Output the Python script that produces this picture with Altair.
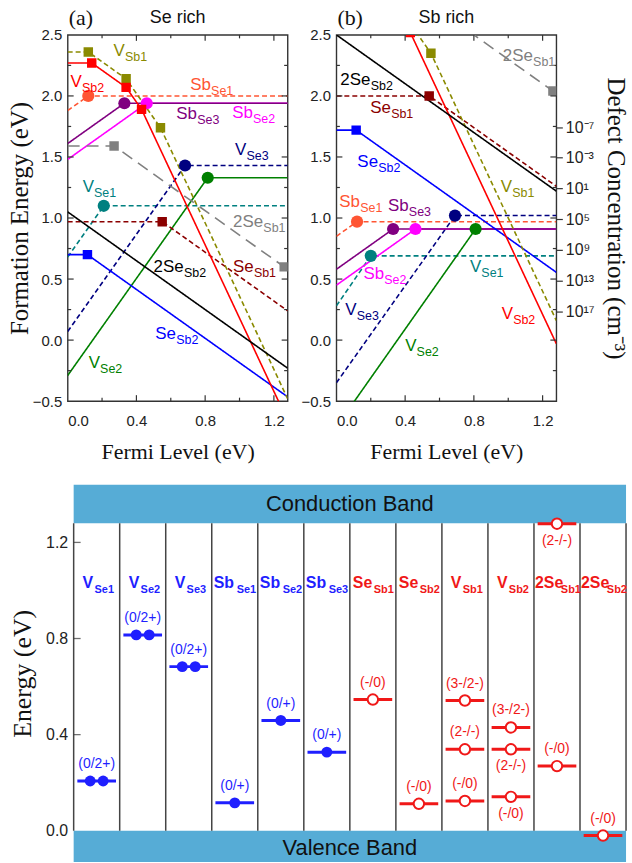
import altair as alt
import pandas as pd

SANS = "Liberation Sans"
SERIF = "Liberation Serif"
FRAME = "#333333"

# ---------------- formation-energy panels ----------------
FERMI_MAX = 1.28
E_MIN, E_MAX = -0.5, 2.5
PW, PH = 221, 368

DEFECTS = ["V_Se1", "V_Se2", "V_Se3", "Sb_Se1", "Sb_Se2", "Sb_Se3",
           "Se_Sb1", "Se_Sb2", "V_Sb1", "V_Sb2", "2Se_Sb1", "2Se_Sb2"]
LINE_COLORS = ["#008080", "#008000", "#000080", "#ff5533", "#ff00ff", "#800080",
               "#8b0000", "#0000ff", "#8a8a00", "#ff0000", "#808080", "#000000"]
LINE_DASHES = [[5, 3], [1, 0], [5, 3], [5, 3], [1, 0], [1, 0],
               [5, 3], [1, 0], [5, 3], [1, 0], [12, 7], [1, 0]]
LINE_WIDTHS = [1.6, 1.6, 1.6, 1.6, 1.6, 1.6, 1.6, 1.3, 1.6, 1.5, 2.4, 2.0]
DONORS = ["V_Se1", "V_Se2", "V_Se3", "Sb_Se1", "Sb_Se2", "Sb_Se3"]

# vertices (Fermi level, formation energy) of every defect line
SE_RICH = {
    "V_Se1": ([0.0, 0.21, 1.28], [0.68, 1.10, 1.10]),
    "V_Se2": ([0.0, 0.815, 1.28], [-0.29, 1.33, 1.33]),
    "V_Se3": ([0.0, 0.683, 1.28], [0.07, 1.43, 1.43]),
    "Sb_Se1": ([0.0, 0.12, 1.28], [1.88, 2.00, 2.00]),
    "Sb_Se2": ([0.0, 0.46, 1.28], [1.48, 1.94, 1.94]),
    "Sb_Se3": ([0.0, 0.33, 1.28], [1.61, 1.94, 1.94]),
    "Se_Sb1": ([0.0, 0.55, 1.28], [0.97, 0.97, 0.24]),
    "Se_Sb2": ([0.0, 0.115, 1.28], [0.70, 0.70, -0.465]),
    "V_Sb1": ([0.0, 0.12, 0.34, 0.54, 1.28], [2.36, 2.36, 2.14, 1.74, -0.48]),
    "V_Sb2": ([0.0, 0.14, 0.34, 0.43, 1.28], [2.27, 2.27, 2.07, 1.89, -0.66]),
    "2Se_Sb1": ([0.0, 0.27, 1.26, 1.28], [1.59, 1.59, 0.60, 0.56]),
    "2Se_Sb2": ([0.0, 1.28], [1.05, -0.23]),
}
SB_RICH = {
    "V_Se1": ([0.0, 0.20, 1.28], [0.28, 0.69, 0.69]),
    "V_Se2": ([0.0, 0.81, 1.28], [-0.71, 0.91, 0.91]),
    "V_Se3": ([0.0, 0.69, 1.28], [-0.35, 1.02, 1.02]),
    "Sb_Se1": ([0.0, 0.12, 1.28], [0.85, 0.97, 0.97]),
    "Sb_Se2": ([0.0, 0.46, 1.28], [0.45, 0.91, 0.91]),
    "Sb_Se3": ([0.0, 0.33, 1.28], [0.58, 0.91, 0.91]),
    "Se_Sb1": ([0.0, 0.54, 1.28], [2.00, 2.00, 1.26]),
    "Se_Sb2": ([0.0, 0.115, 1.28], [1.72, 1.72, 0.555]),
    "V_Sb1": ([0.0, 0.12, 0.34, 0.55, 1.28], [2.99, 2.99, 2.77, 2.35, 0.16]),
    "V_Sb2": ([0.0, 0.14, 0.34, 0.43, 1.28], [2.90, 2.90, 2.70, 2.52, -0.03]),
    "2Se_Sb1": ([0.0, 0.27, 1.26, 1.28], [3.03, 3.03, 2.04, 2.00]),
    "2Se_Sb2": ([0.0, 1.28], [2.50, 1.22]),
}

# defect name tags inside each panel (left edge, vertical centre)
SE_TAG_DEFECT = ["V_Sb1", "V_Sb2", "Sb_Se1", "Sb_Se3", "Sb_Se2", "V_Se3",
                 "V_Se1", "2Se_Sb1", "2Se_Sb2", "Se_Sb1", "Se_Sb2", "V_Se2"]
SE_TAG_X = [0.267, 0.017, 0.713, 0.632, 0.957, 0.974, 0.087, 0.962, 0.50, 0.962, 0.51, 0.122]
SE_TAG_Y = [2.37, 2.11, 2.09, 1.85, 1.86, 1.56, 1.25, 0.97, 0.60, 0.60, 0.05, -0.19]

SB_TAG_DEFECT = ["2Se_Sb1", "2Se_Sb2", "Se_Sb1", "Se_Sb2", "V_Sb1", "Sb_Se1",
                 "Sb_Se3", "Sb_Se2", "V_Se1", "V_Se3", "V_Sb2", "V_Se2"]
SB_TAG_X = [0.968, 0.023, 0.197, 0.122, 0.957, 0.017, 0.30, 0.157, 0.777, 0.052, 0.962, 0.40]
SB_TAG_Y = [2.33, 2.13, 1.90, 1.46, 1.25, 1.13, 1.10, 0.54, 0.60, 0.25, 0.21, -0.05]

# right-hand concentration axis (exponents of 10, cm^-3)
CONC_EXP = [-7, -3, 1, 5, 9, 13, 17]
CONC_DOMAIN = [-19.0, 28.7]

X_TICKS = [0.0, 0.4, 0.8, 1.2]
X_MINOR = [0.2, 0.6, 1.0]
Y_TICKS = [-0.5, 0.0, 0.5, 1.0, 1.5, 2.0, 2.5]
Y_MINOR = [-0.25, 0.25, 0.75, 1.25, 1.75, 2.25]

TAG_MAIN_SIZE, TAG_SUB_SIZE = 17, 12.5
TAG_SUB_DX = {"V": 11.5, "Sb": 21, "Se": 21, "2Se": 30.5}


def line_table(verts):
    rows = []
    for d, (xs, ys) in verts.items():
        for i, (x, y) in enumerate(zip(xs, ys)):
            rows.append({"defect": d, "i": i, "x": x, "y": y,
                         "marker": 0 < i < len(xs) - 1,
                         "shape": "circle" if d in DONORS else "square"})
    return pd.DataFrame(rows)


def tag_table(defects, xs, ys):
    return pd.DataFrame({"defect": defects, "x": xs, "y": ys,
                         "main": [d.split("_")[0] for d in defects],
                         "sub": [d.split("_")[1] for d in defects]})


def sup(n):
    table = str.maketrans("-0123456789", "⁻⁰¹²³⁴⁵⁶⁷⁸⁹")
    return "10" + str(n).translate(table)


color_enc = alt.Color("defect:N", scale=alt.Scale(domain=DEFECTS, range=LINE_COLORS), legend=None)


def formation_panel(verts, tag_df, letter, heading, first):
    xs = alt.Scale(domain=[0, FERMI_MAX], nice=False, zero=False)
    ys = alt.Scale(domain=[E_MIN, E_MAX], nice=False, zero=False)
    x_axis = alt.Axis(title="Fermi Level (eV)", values=X_TICKS, format=".1f", ticks=False,
                      domain=False, labelPadding=12, titlePadding=14, titleFontSize=22,
                      labelFontSize=15)
    y_axis = alt.Axis(title="Formation Energy (eV)" if first else None, values=Y_TICKS,
                      format=".1f", ticks=False, domain=False, labelPadding=6,
                      titlePadding=0, titleFontSize=25, labelFontSize=15)
    X = lambda f: alt.X(f, scale=xs, axis=x_axis)
    Y = lambda f: alt.Y(f, scale=ys, axis=y_axis)

    df = line_table(verts)
    lines = alt.Chart(df).mark_line(clip=True).encode(
        x=X("x:Q"), y=Y("y:Q"), color=color_enc,
        strokeDash=alt.StrokeDash("defect:N", scale=alt.Scale(domain=DEFECTS, range=LINE_DASHES), legend=None),
        strokeWidth=alt.StrokeWidth("defect:N", scale=alt.Scale(domain=DEFECTS, range=LINE_WIDTHS), legend=None),
        detail="defect:N", order="i:Q")
    circles = alt.Chart(df).transform_filter("datum.marker && datum.shape == 'circle'").mark_point(
        shape="circle", filled=True, opacity=1, size=150, clip=True).encode(x=X("x:Q"), y=Y("y:Q"), color=color_enc)
    squares = alt.Chart(df).transform_filter("datum.marker && datum.shape == 'square'").mark_point(
        shape="square", filled=True, opacity=1, size=90, clip=True).encode(x=X("x:Q"), y=Y("y:Q"), color=color_enc)

    layers = [lines, circles, squares]

    # inward tick marks on all four sides
    def ticks(vals, side, length):
        m = alt.Chart(pd.DataFrame({"v": vals})).mark_rule(color=FRAME, strokeWidth=1.2)
        if side == "bottom":
            return m.encode(x=X("v:Q"), y=alt.value(PH), y2=alt.value(PH - length))
        if side == "top":
            return m.encode(x=X("v:Q"), y=alt.value(0), y2=alt.value(length))
        if side == "left":
            return m.encode(y=Y("v:Q"), x=alt.value(0), x2=alt.value(length))
        return m.encode(y=Y("v:Q"), x=alt.value(PW), x2=alt.value(PW - length))

    for side in ["bottom", "top"]:
        layers += [ticks(X_TICKS[1:], side, 6), ticks(X_MINOR, side, 3.5)]
    for side in ["left", "right"]:
        layers += [ticks(Y_TICKS[1:-1], side, 6), ticks(Y_MINOR, side, 3.5)]

    # defect tags with subscripts
    layers.append(alt.Chart(tag_df).mark_text(align="left", baseline="middle", font=SANS,
                                              fontSize=TAG_MAIN_SIZE).encode(
        x=X("x:Q"), y=Y("y:Q"), text="main:N", color=color_enc))
    for prefix, dx in TAG_SUB_DX.items():
        layers.append(alt.Chart(tag_df).transform_filter(alt.datum.main == prefix).mark_text(
            align="left", baseline="middle", font=SANS, fontSize=TAG_SUB_SIZE, dx=dx, dy=6).encode(
            x=X("x:Q"), y=Y("y:Q"), text="sub:N", color=color_enc))

    # panel letter and heading above the frame
    layers.append(alt.Chart(pd.DataFrame({"t": [letter]})).mark_text(
        align="left", baseline="middle", font=SERIF, fontSize=22, color="#111").encode(
        x=alt.value(1), y=alt.value(-17), text="t:N"))
    layers.append(alt.Chart(pd.DataFrame({"t": [heading]})).mark_text(
        align="center", baseline="middle", font=SANS, fontSize=18, color="#111").encode(
        x=alt.value(PW / 2), y=alt.value(-17), text="t:N"))

    return alt.layer(*layers)


se_layer = formation_panel(SE_RICH, tag_table(SE_TAG_DEFECT, SE_TAG_X, SE_TAG_Y), "(a)", "Se rich", True)
sb_layer = formation_panel(SB_RICH, tag_table(SB_TAG_DEFECT, SB_TAG_X, SB_TAG_Y), "(b)", "Sb rich", False)

label_expr = " : ".join(f"datum.value == {n} ? '{sup(n)}'" for n in CONC_EXP) + " : ''"
conc = alt.Chart(pd.DataFrame({"n": CONC_EXP})).mark_point(opacity=0).encode(
    x=alt.value(0),
    y=alt.Y("n:Q", scale=alt.Scale(domain=CONC_DOMAIN, reverse=True, nice=False, zero=False),
            axis=alt.Axis(orient="right", values=CONC_EXP, labelExpr=label_expr, domain=False,
                          ticks=True, tickSize=6, tickColor=FRAME, tickWidth=1.2,
                          labelFontSize=16, labelPadding=3, titleFontSize=25, titlePadding=8,
                          title="Defect Concentration (cm⁻³)")))

panel_a = se_layer.properties(width=PW, height=PH)
panel_b = alt.layer(sb_layer, conc).resolve_scale(y="independent").properties(width=PW, height=PH)

# ---------------- defect level diagram ----------------
NCOL = 12
LEFT_GAP = 0.13          # blank strip (in column widths) between the energy labels and column 1
EG = 1.28
LOW_MIN, LOW_MAX = -0.13, 1.44
LW, LH = 561, 379
BLUE, RED = "#1f1fff", "#f01818"
BAND = "#56acd6"

COL_MAIN = ["V", "V", "V", "Sb", "Sb", "Sb", "Se", "Se", "V", "V", "2Se", "2Se"]
COL_SUB = ["Se1", "Se2", "Se3", "Se1", "Se2", "Se3", "Sb1", "Sb2", "Sb1", "Sb2", "Sb1", "Sb2"]
COL_KIND = ["donor"] * 6 + ["acceptor"] * 6
HEADER_E = 1.03
HEADER_OFFSETS = {"V": (9, 21), "Sb": (2, 25), "Se": (3, 24), "2Se": (1, 27)}

LEVEL_COL = [0, 1, 2, 3, 4, 5, 6, 7, 8, 8, 8, 9, 9, 9, 10, 10, 11]
LEVEL_E = [0.207, 0.815, 0.683, 0.116, 0.459, 0.327, 0.546, 0.112,
           0.542, 0.339, 0.124, 0.430, 0.339, 0.141, 1.278, 0.269, -0.020]
LEVEL_TEXT = ["(0/2+)", "(0/2+)", "(0/2+)", "(0/+)", "(0/+)", "(0/+)", "(-/0)", "(-/0)",
              "(3-/2-)", "(2-/-)", "(-/0)", "(3-/2-)", "(2-/-)", "(-/0)", "(2-/-)", "(-/0)", "(-/0)"]
LEVEL_SIDE = ["above"] * 12 + ["below", "below", "below", "above", "above"]
LEVEL_DOTS = [2, 2, 2] + [1] * 14

BAND_NAME = ["Conduction Band", "Valence Band"]
BAND_LO = [EG, LOW_MIN]
BAND_HI = [LOW_MAX, 0.0]
BAND_TEXT_E = [1.36, -0.07]

lx = alt.Scale(domain=[-LEFT_GAP, NCOL], nice=False, zero=False)
ly = alt.Scale(domain=[LOW_MIN, LOW_MAX], nice=False, zero=False)
ly_axis = alt.Axis(title="Energy (eV)", values=[0.0, 0.4, 0.8, 1.2], format=".1f", ticks=False,
                   domain=False, labelPadding=0, titlePadding=10, titleFontSize=26, labelFontSize=16)
LX = lambda f: alt.X(f, scale=lx, axis=None)
LY = lambda f: alt.Y(f, scale=ly, axis=ly_axis)
kind_color = alt.condition("datum.kind == 'donor'", alt.value(BLUE), alt.value(RED))

band_df = pd.DataFrame({"name": BAND_NAME, "lo": BAND_LO, "hi": BAND_HI, "ty": BAND_TEXT_E})
levels_df = pd.DataFrame({"col": LEVEL_COL, "e": LEVEL_E, "text": LEVEL_TEXT, "side": LEVEL_SIDE,
                          "dots": LEVEL_DOTS, "kind": [COL_KIND[c] for c in LEVEL_COL]})
cols_df = pd.DataFrame({"col": list(range(NCOL)), "main": COL_MAIN, "sub": COL_SUB, "kind": COL_KIND})
sep_df = pd.DataFrame({"v": list(range(NCOL + 1))})

bands = alt.Chart(band_df).transform_calculate(x0="0", x1=str(NCOL)).mark_rect(color=BAND).encode(
    x=LX("x0:Q"), x2="x1:Q", y=LY("lo:Q"), y2="hi:Q")
band_text = alt.Chart(band_df).transform_calculate(xc=str(NCOL / 2)).mark_text(
    font=SANS, fontSize=22, color="#111", baseline="middle").encode(x=LX("xc:Q"), y=LY("ty:Q"), text="name:N")
seps = alt.Chart(sep_df).transform_calculate(y0="0", y1=str(EG)).mark_rule(
    color="#444", strokeWidth=1.5).encode(x=LX("v:Q"), y=LY("y0:Q"), y2="y1:Q")
lticks = alt.Chart(pd.DataFrame({"v": [0.4, 0.8, 1.2]})).transform_calculate(c0="0").mark_tick(
    orient="horizontal", size=7, thickness=1.3, color="#333", xOffset=3.5).encode(
    x=LX("c0:Q"), y=LY("v:Q"))

lv = alt.Chart(levels_df).transform_calculate(
    xa="datum.col + 0.08", xb="datum.col + 0.92", xc="datum.col + 0.5")
level_lines = lv.mark_rule(strokeWidth=3).encode(x=LX("xa:Q"), x2="xb:Q", y=LY("e:Q"), color=kind_color)
single = lv.transform_filter("datum.kind == 'donor' && datum.dots == 1").mark_point(
    shape="circle", filled=True, opacity=1, size=120, color=BLUE).encode(x=LX("xc:Q"), y=LY("e:Q"))
double_l = lv.transform_filter("datum.dots == 2").mark_point(
    shape="circle", filled=True, opacity=1, size=120, color=BLUE, xOffset=-6.5).encode(x=LX("xc:Q"), y=LY("e:Q"))
double_r = lv.transform_filter("datum.dots == 2").mark_point(
    shape="circle", filled=True, opacity=1, size=120, color=BLUE, xOffset=6.5).encode(x=LX("xc:Q"), y=LY("e:Q"))
open_c = lv.transform_filter("datum.kind == 'acceptor'").mark_point(
    shape="circle", filled=True, opacity=1, size=110, fill="white", stroke=RED, strokeWidth=2).encode(
    x=LX("xc:Q"), y=LY("e:Q"))
lab_above = lv.transform_filter("datum.side == 'above'").mark_text(
    font=SANS, fontSize=14, baseline="middle", yOffset=-17).encode(x=LX("xc:Q"), y=LY("e:Q"), text="text:N", color=kind_color)
lab_below = lv.transform_filter("datum.side == 'below'").mark_text(
    font=SANS, fontSize=14, baseline="middle", yOffset=17).encode(x=LX("xc:Q"), y=LY("e:Q"), text="text:N", color=kind_color)

headers = []
for prefix, (mo, so) in HEADER_OFFSETS.items():
    base = alt.Chart(cols_df).transform_filter(alt.datum.main == prefix).transform_calculate(he=str(HEADER_E))
    headers.append(base.mark_text(align="left", baseline="middle", font=SANS, fontSize=16,
                                  fontWeight="bold", xOffset=mo).encode(
        x=LX("col:Q"), y=LY("he:Q"), text="main:N", color=kind_color))
    headers.append(base.mark_text(align="left", baseline="middle", font=SANS, fontSize=11,
                                  fontWeight="bold", xOffset=so, yOffset=7).encode(
        x=LX("col:Q"), y=LY("he:Q"), text="sub:N", color=kind_color))

lower = alt.layer(bands, band_text, seps, lticks, level_lines, single, double_l, double_r, open_c,
                  lab_above, lab_below, *headers).properties(
    width=LW, height=LH, view=alt.ViewBackground(strokeOpacity=0))

top_row = alt.hconcat(panel_a, panel_b, spacing=10)
chart = alt.concat(top_row, lower, columns=1, align="none", spacing=21).properties(
    padding={"left": 6, "top": 4, "right": 4, "bottom": 0}
).configure_view(stroke=FRAME, strokeWidth=1.4).configure_axis(
    labelFont=SANS, titleFont=SERIF, titleFontWeight="normal", labelColor="#222",
    titleColor="#111", grid=False)

chart.save("out.html", embed_options={"renderer": "svg", "actions": False})
